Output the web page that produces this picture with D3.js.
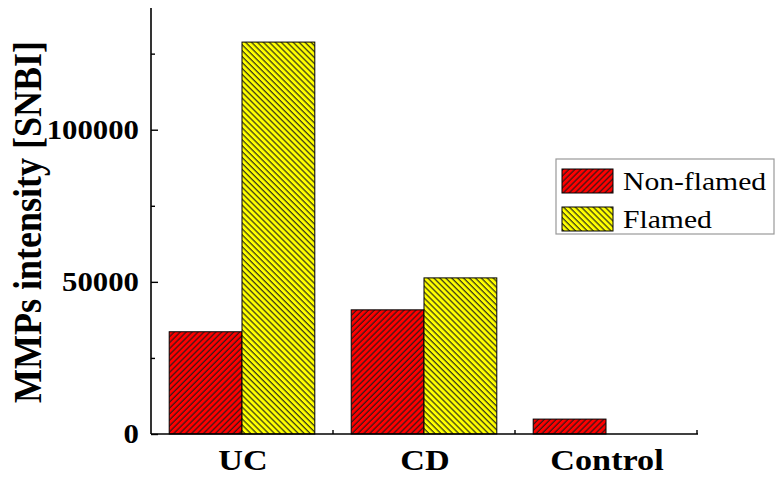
<!DOCTYPE html>
<html>
<head>
<meta charset="utf-8">
<script src="https://cdn.jsdelivr.net/npm/d3@7"></script>
<style>
  body { margin: 0; background: #fff; }
  text { font-family: "Liberation Serif", "Times New Roman", serif; }
</style>
</head>
<body>
<svg id="chart" width="775" height="477"></svg>
<script>
"use strict";

var categories = ["UC", "CD", "Control"];
var series = ["Non-flamed", "Flamed"];
var nonFlamed = [33600, 40800, 4900];
var flamed = [128800, 51300, null];
var majorTicks = [0, 50000, 100000];
var minorTicks = [25000, 75000, 125000];

var fills = { "Non-flamed": "#ff0000", "Flamed": "#ffff00" };

// the original text is a little wider than Times, stretch it sideways
var STRETCH = 1.14;

var svg = d3.select("#chart");

var x = d3.scaleBand().domain(categories).range([151, 697]).padding(0);
var xs = d3.scaleBand().domain(series).range([0, x.bandwidth()])
  .paddingInner(0).paddingOuter(0.25);
var y = d3.scaleLinear().domain([0, 140000]).range([434, 8]);

// hatch patterns
var defs = svg.append("defs");
function hatch(id, color, angle) {
  var p = defs.append("pattern")
      .attr("id", id)
      .attr("patternUnits", "userSpaceOnUse")
      .attr("width", 4.2)
      .attr("height", 4.2)
      .attr("patternTransform", "rotate(" + angle + ")");
  p.append("rect").attr("width", 4.2).attr("height", 4.2).attr("fill", color);
  p.append("line")
      .attr("x1", 1).attr("x2", 1).attr("y1", 0).attr("y2", 4.2)
      .attr("stroke", "#1a1a1a").attr("stroke-width", 1.1);
}
hatch("hatch-red", fills["Non-flamed"], 45);
hatch("hatch-yellow", fills["Flamed"], -45);
var patternOf = { "Non-flamed": "url(#hatch-red)", "Flamed": "url(#hatch-yellow)" };

var rows = [];
categories.forEach(function (c, i) {
  rows.push({ cat: c, s: "Non-flamed", v: nonFlamed[i] });
  rows.push({ cat: c, s: "Flamed", v: flamed[i] });
});

svg.append("g").selectAll("rect")
  .data(rows.filter(function (d) { return d.v !== null; }))
  .enter().append("rect")
    .attr("x", function (d) { return x(d.cat) + xs(d.s); })
    .attr("y", function (d) { return y(d.v); })
    .attr("width", xs.bandwidth())
    .attr("height", function (d) { return y(0) - y(d.v); })
    .attr("fill", function (d) { return patternOf[d.s]; })
    .attr("stroke", "#000")
    .attr("stroke-width", 1);

// y axis
var yAxis = svg.append("g").attr("transform", "translate(151,0)")
  .call(d3.axisRight(y).tickValues(majorTicks).tickSize(7).tickFormat(""));
yAxis.select(".domain").remove();
var yMinor = svg.append("g").attr("transform", "translate(151,0)")
  .call(d3.axisRight(y).tickValues(minorTicks).tickSize(4).tickFormat(""));
yMinor.select(".domain").remove();
svg.selectAll(".tick line").attr("stroke-width", 1.4);

svg.append("line")
    .attr("x1", 151).attr("x2", 151)
    .attr("y1", y.range()[1]).attr("y2", y(0))
    .attr("stroke", "#000").attr("stroke-width", 1.6);

svg.append("g").selectAll("text")
  .data(majorTicks)
  .enter().append("text")
    .attr("transform", function (d) {
      return "translate(139," + y(d) + ") scale(" + STRETCH + ",1)";
    })
    .attr("dy", "0.33em")
    .attr("text-anchor", "end")
    .attr("font-weight", "bold")
    .attr("font-size", 27)
    .text(function (d) { return d; });

// x axis
svg.append("line")
    .attr("x1", 151).attr("x2", 698)
    .attr("y1", y(0)).attr("y2", y(0))
    .attr("stroke", "#000").attr("stroke-width", 1.6);

svg.append("g").selectAll("line")
  .data(categories.slice(1).concat(["end"]))
  .enter().append("line")
    .attr("x1", function (d) { return d === "end" ? x.range()[1] : x(d); })
    .attr("x2", function (d) { return d === "end" ? x.range()[1] : x(d); })
    .attr("y1", y(0)).attr("y2", y(0) - 4)
    .attr("stroke", "#000").attr("stroke-width", 1.4);

svg.append("g").selectAll("text")
  .data(categories)
  .enter().append("text")
    .attr("transform", function (d) {
      return "translate(" + (x(d) + x.bandwidth() / 2 + 1) + ",470) scale(" + STRETCH + ",1)";
    })
    .attr("text-anchor", "middle")
    .attr("font-weight", "bold")
    .attr("font-size", 30)
    .text(function (d) { return d; });

// y title
svg.append("text")
    .attr("transform", "translate(41,222) rotate(-90) scale(1," + STRETCH + ")")
    .attr("text-anchor", "middle")
    .attr("font-weight", "bold")
    .attr("font-size", 36)
    .text("MMPs intensity [SNBI]");

// legend
var legend = svg.append("g");
legend.append("rect")
    .attr("x", 556).attr("y", 159)
    .attr("width", 218).attr("height", 75)
    .attr("fill", "#fff")
    .attr("stroke", "#999")
    .attr("stroke-width", 1.2);

var items = legend.selectAll("g.item")
  .data(series)
  .enter().append("g")
    .attr("class", "item")
    .attr("transform", function (d, i) { return "translate(562," + (169 + i * 38) + ")"; });
items.append("rect")
    .attr("width", 51).attr("height", 24)
    .attr("fill", function (d) { return patternOf[d]; })
    .attr("stroke", "#000")
    .attr("stroke-width", 1);
items.append("text")
    .attr("transform", "translate(61,12) scale(" + STRETCH + ",1)")
    .attr("dy", "0.35em")
    .attr("font-size", 26)
    .text(function (d) { return d; });
</script>
</body>
</html>
